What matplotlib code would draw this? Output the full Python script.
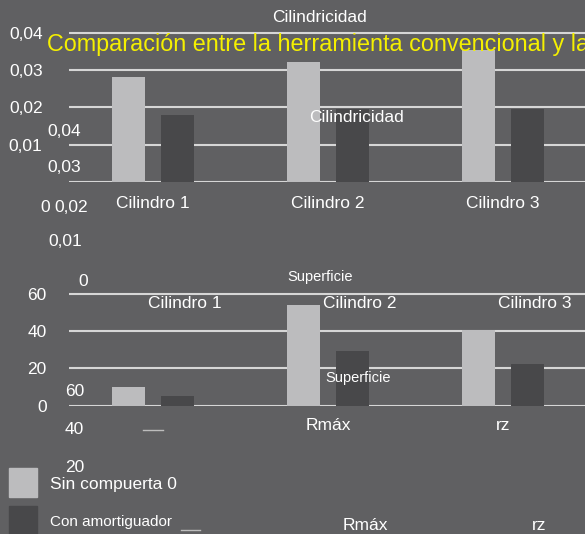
import matplotlib.pyplot as plt
import numpy as np
from matplotlib.patches import Rectangle
from matplotlib.lines import Line2D

plt.rcParams['font.family'] = ['Liberation Sans', 'DejaVu Sans']

# ==============================
# DATA
# ==============================
cyl_labels = ["Cilindro 1", "Cilindro 2", "Cilindro 3"]
cyl_sin = [0.0281, 0.0322, 0.0354]
cyl_con = [0.0181, 0.0195, 0.0197]
cyl_ticks = [0, 0.01, 0.02, 0.03, 0.04]
cyl_ticklabels = ["", "0,01", "0,02", "0,03", "0,04"]

sup_labels = ["", "Rmáx", "rz"]
sup_sin = [9.7, 54.0, 40.5]
sup_con = [5.2, 29.2, 22.5]
sup_ticks = [0, 20, 40, 60]
sup_ticklabels = ["0", "20", "40", "60"]

series_names = ["Sin compuerta 0", "Con amortiguador"]

BG = "#606062"
LIGHT = "#bcbcbe"
DARK = "#48484a"
GRID = "#d6d6d6"
W, H = 585, 534

fig = plt.figure(figsize=(W / 100, H / 100), dpi=100, facecolor=BG)


def px_axes(left, top, right, bottom):
    return fig.add_axes([left / W, 1 - bottom / H, (right - left) / W, (bottom - top) / H])


def txt(x, y, s, size=12.5, color="white", ha="left"):
    fig.text(x / W, 1 - y / H, s, fontsize=size, color=color, ha=ha, va="center")


def style(ax, ticks, ticklabels, ypad, xpad):
    ax.set_facecolor("none")
    for sp in ax.spines.values():
        sp.set_visible(False)
    ax.set_yticks(ticks)
    ax.set_yticklabels(ticklabels)
    ax.yaxis.grid(True, color=GRID, linewidth=1.5)
    ax.set_axisbelow(True)
    ax.tick_params(axis="both", length=0, labelsize=12.5, labelcolor="white")
    ax.tick_params(axis="y", pad=ypad)
    ax.tick_params(axis="x", pad=xpad)
    ax.set_xlim(-0.48, 2.48)


x = np.arange(3)
bw = 0.19
off = 0.14

# ==============================
# TOP CHART - Cilindricidad
# ==============================
ax1 = px_axes(69, 182 - 0.041 / 0.04 * 149, 587, 182)
ax1.bar(x - off, cyl_sin, bw, color=LIGHT, zorder=3)
ax1.bar(x + off, cyl_con, bw, color=DARK, zorder=3)
ax1.set_ylim(0, 0.041)
ax1.set_xticks(x)
ax1.set_xticklabels(cyl_labels)
style(ax1, cyl_ticks, cyl_ticklabels, 19, 10)

# ==============================
# BOTTOM CHART - Superficie
# ==============================
ax2 = px_axes(69, 405.5 - 62 / 20 * 37.2, 587, 405.5)
ax2.bar(x - off, sup_sin, bw, color=LIGHT, zorder=3)
ax2.bar(x + off, sup_con, bw, color=DARK, zorder=3)
ax2.set_ylim(0, 62)
ax2.set_xticks(x)
ax2.set_xticklabels(sup_labels)
style(ax2, sup_ticks, sup_ticklabels, 16, 9)

# ==============================
# OVERLAPPING LEFTOVER TEXT
# ==============================
txt(272, 18, "Cilindricidad")
txt(47, 44, "Comparación entre la herramienta convencional y la",
    size=16.8, color="#f5f000")
txt(47, 131, "0,04")
txt(47, 168, "0,03")
txt(40, 207, "0")
txt(54, 207, "0,02")
txt(48, 242, "0,01")
txt(78, 281, "0")
txt(309, 118, "Cilindricidad")
txt(287, 277, "Superficie", size=10.5)
txt(148, 304, "Cilindro 1")
txt(323, 304, "Cilindro 2")
txt(498, 304, "Cilindro 3")
txt(325, 378, "Superficie", size=10.5)
txt(65, 392, "60")
txt(65, 429, "40")
txt(65, 467, "20")
txt(343, 525, "Rmáx")
txt(532, 525, "rz")

fig.add_artist(Line2D([143 / W, 163 / W], [1 - 430 / H] * 2, color="#bdbdbd", lw=1))
fig.add_artist(Line2D([181 / W, 200 / W], [1 - 530 / H] * 2, color="#bdbdbd", lw=1))

# legend
fig.add_artist(Rectangle((9 / W, 1 - 497 / H), 28 / W, 29 / H, color=LIGHT,
                         transform=fig.transFigure))
fig.add_artist(Rectangle((9 / W, 1 - 536 / H), 28 / W, 30 / H, color=DARK,
                         transform=fig.transFigure))
txt(50, 485, series_names[0])
txt(50, 522, series_names[1], size=11)

fig.savefig("out.png", dpi=100, facecolor=BG)
